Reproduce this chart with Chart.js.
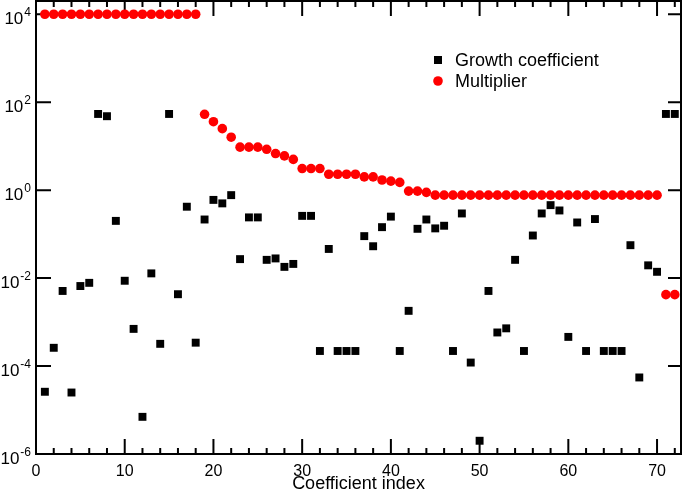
<!DOCTYPE html>
<html>
<head>
<meta charset="utf-8">
<script src="https://cdn.jsdelivr.net/npm/chart.js@4.4.1/dist/chart.umd.min.js"></script>
<style>
  body { margin: 0; background: #fff; }
  #wrap { width: 685px; height: 495px; }
</style>
</head>
<body>
<div id="wrap"><canvas id="coefChart"></canvas></div>
<script>
// coefficient index 1..72
const indices = Array.from({ length: 72 }, (_, i) => i + 1);

const growth = [
  2.6e-5, 2.6e-4, 5.1e-3, 2.5e-5, 6.6e-3, 7.8e-3, 54, 48, 0.2, 8.7e-3,
  7e-4, 7e-6, 0.0128, 3.2e-4, 54, 4.3e-3, 0.42, 3.4e-4, 0.215, 0.6,
  0.5, 0.77, 0.027, 0.24, 0.24, 0.026, 0.028, 0.018, 0.021, 0.26,
  0.26, 2.2e-4, 0.046, 2.2e-4, 2.2e-4, 2.2e-4, 0.09, 0.053, 0.144, 0.25,
  2.2e-4, 1.8e-3, 0.132, 0.215, 0.135, 0.155, 2.2e-4, 0.295, 1.2e-4, 2e-6,
  5.1e-3, 5.8e-4, 7.2e-4, 0.026, 2.2e-4, 0.093, 0.295, 0.456, 0.345, 4.6e-4,
  0.184, 2.2e-4, 0.22, 2.2e-4, 2.2e-4, 2.2e-4, 0.056, 5.5e-5, 0.0195, 0.0139,
  54, 54
];

const multiplier = [
  1e4, 1e4, 1e4, 1e4, 1e4, 1e4, 1e4, 1e4, 1e4, 1e4,
  1e4, 1e4, 1e4, 1e4, 1e4, 1e4, 1e4, 1e4, 53, 36,
  25, 16, 9.5, 9.5, 9.5, 8.5, 6.8, 6.0, 5.0, 3.1,
  3.1, 3.1, 2.3, 2.3, 2.3, 2.3, 2.0, 2.0, 1.7, 1.6,
  1.5, 0.95, 0.95, 0.89, 0.77, 0.77, 0.77, 0.77, 0.77, 0.77,
  0.77, 0.77, 0.77, 0.77, 0.77, 0.77, 0.77, 0.77, 0.77, 0.77,
  0.77, 0.77, 0.77, 0.77, 0.77, 0.77, 0.77, 0.77, 0.77, 0.77,
  0.0042, 0.0042
];

const xTicks = [0, 10, 20, 30, 40, 50, 60, 70];
const yExponents = [-6, -4, -2, 0, 2, 4];

const FONT = '"Liberation Sans", Arial, Helvetica, sans-serif';
Chart.defaults.font.family = FONT;
Chart.defaults.color = '#000';

// box, inward ticks, y labels with superscripts, legend inside the plot
const framePlugin = {
  id: 'frame',
  beforeDatasetsDraw(chart) {
    const { ctx, chartArea: a, scales: { x, y } } = chart;
    ctx.save();
    ctx.strokeStyle = '#000';
    ctx.lineWidth = 2;
    ctx.strokeRect(a.left, a.top, a.right - a.left, a.bottom - a.top);
    ctx.beginPath();
    for (let v = 0; v <= x.max; v += 2) {
      const px = x.getPixelForValue(v);
      const len = v % 10 === 0 ? 15 : 6;
      ctx.moveTo(px, a.bottom); ctx.lineTo(px, a.bottom - len);
      ctx.moveTo(px, a.top); ctx.lineTo(px, a.top + len);
    }
    for (const e of yExponents) {
      const py = y.getPixelForValue(Math.pow(10, e));
      ctx.moveTo(a.left, py); ctx.lineTo(a.left + 15, py);
      ctx.moveTo(a.right, py); ctx.lineTo(a.right - 13, py);
    }
    ctx.stroke();

    ctx.fillStyle = '#000';
    ctx.textBaseline = 'alphabetic';
    ctx.textAlign = 'left';
    for (const e of yExponents) {
      const py = y.getPixelForValue(Math.pow(10, e));
      const sup = String(e);
      ctx.font = '12px ' + FONT;
      const supW = ctx.measureText(sup).width;
      ctx.font = '17px ' + FONT;
      const baseW = ctx.measureText('10').width;
      const right = a.left - 5;
      ctx.fillText('10', right - supW - baseW - 1, py + 10);
      ctx.font = '12px ' + FONT;
      ctx.fillText(sup, right - supW, py + 2);
    }
    ctx.restore();
  },
  afterDatasetsDraw(chart) {
    const { ctx, chartArea: a } = chart;
    const lx = a.left + 402, ly = a.top + 59;
    ctx.save();
    ctx.font = '18px ' + FONT;
    ctx.textBaseline = 'middle';
    ctx.textAlign = 'left';
    chart.data.datasets.forEach((ds, i) => {
      const cy = ly + i * 21;
      ctx.fillStyle = ds.backgroundColor;
      ctx.beginPath();
      if (ds.pointStyle === 'rect') {
        ctx.rect(lx - 4, cy - 4, 8, 8);
      } else {
        ctx.arc(lx, cy, 4.8, 0, Math.PI * 2);
      }
      ctx.fill();
      ctx.fillStyle = '#000';
      ctx.fillText(ds.label, lx + 17, cy + 1);
    });
    ctx.restore();
  }
};

const ctx = document.getElementById('coefChart').getContext('2d');
const coefChart = new Chart(ctx, {
  type: 'scatter',
  data: {
    datasets: [
      {
        label: 'Growth coefficient',
        data: indices.map((k, i) => ({ x: k, y: growth[i] })),
        pointStyle: 'rect',
        pointRadius: 5.6,
        pointBorderWidth: 0,
        backgroundColor: '#000000',
        borderColor: '#000000'
      },
      {
        label: 'Multiplier',
        data: indices.map((k, i) => ({ x: k, y: multiplier[i] })),
        pointStyle: 'circle',
        pointRadius: 4.8,
        pointBorderWidth: 0,
        backgroundColor: '#ff0000',
        borderColor: '#ff0000'
      }
    ]
  },
  options: {
    responsive: true,
    maintainAspectRatio: false,
    animation: false,
    layout: { autoPadding: false, padding: { top: 1, right: 4, left: 0, bottom: 0 } },
    plugins: {
      legend: { display: false },
      tooltip: { enabled: false }
    },
    scales: {
      x: {
        type: 'linear',
        min: 0,
        max: 72.7,
        grid: { display: false, drawTicks: false },
        border: { display: false },
        afterBuildTicks: (scale) => {
          scale.ticks = xTicks.map((v) => ({ value: v }));
        },
        afterFit: (scale) => { scale.height = 41; },
        ticks: {
          padding: 8,
          font: { size: 16 },
          color: '#000'
        },
        title: {
          display: true,
          text: 'Coefficient index',
          font: { size: 18 },
          color: '#000',
          padding: 0
        }
      },
      y: {
        type: 'logarithmic',
        min: 1e-6,
        max: 2e4,
        grid: { display: false },
        border: { display: false },
        ticks: { display: false },
        afterFit: (scale) => { scale.width = 36; }
      }
    }
  },
  plugins: [framePlugin]
});
</script>
</body>
</html>
